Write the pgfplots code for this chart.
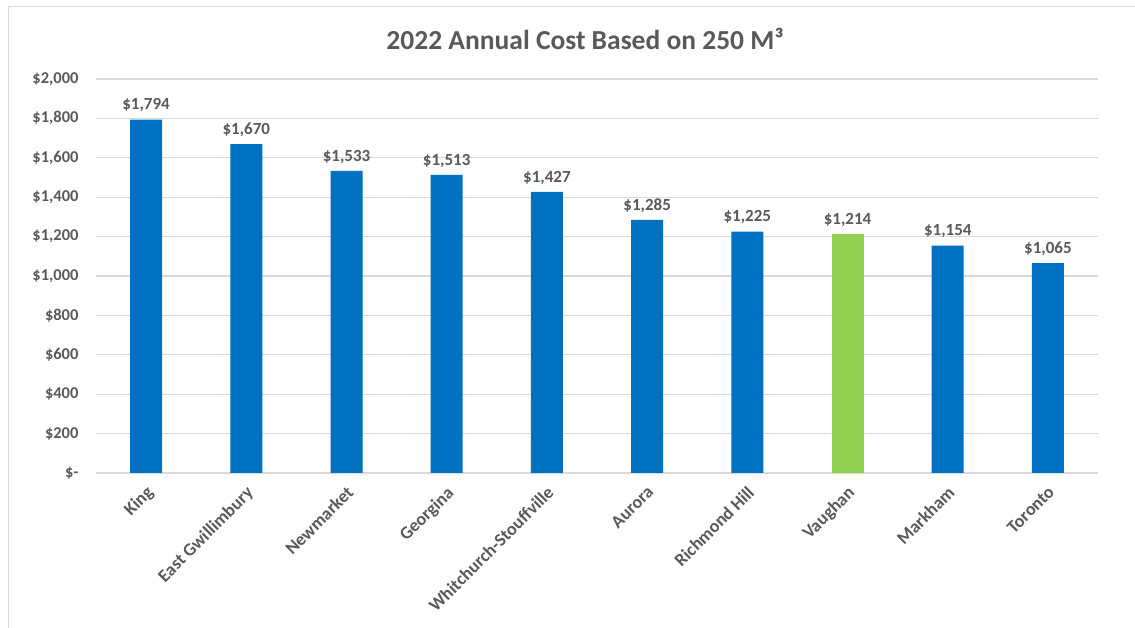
\documentclass[border=0pt]{standalone}
\usepackage{fontspec}
\setmainfont{Carlito}
\usepackage{pgfplots}
\pgfplotsset{compat=1.18}
\definecolor{barblue}{HTML}{0070C0}
\definecolor{bargreen}{HTML}{92D050}
\definecolor{txt}{HTML}{595959}
\definecolor{gridc}{HTML}{D9D9D9}
\begin{document}
\begin{tikzpicture}[x=1pt,y=1pt]
\path[use as bounding box] (0,0) rectangle (1135,628);
\draw[gridc, line width=1.5pt] (8.5,0) -- (8.5,621.5) -- (1135,621.5);
\node[txt, font=\bfseries\fontsize{27.5}{32}\selectfont] at (585,589.5) {2022 Annual Cost Based on 250 M³};
\begin{axis}[
  at={(96pt,155pt)}, anchor=south west, scale only axis,
  width=1002pt, height=394pt,
  xmin=-0.5, xmax=9.5, ymin=0, ymax=2000,
  axis lines*=left,
  x axis line style={gridc, line width=1.5pt, -},
  y axis line style={draw=none},
  ymajorgrids, grid style={gridc, line width=1.2pt},
  major tick length=0pt,
  xtick={0,...,9},
  xticklabels={King, East Gwillimbury, Newmarket, Georgina, Whitchurch-Stouffville, Aurora, Richmond Hill, Vaughan, Markham, Toronto},
  xticklabel style={xshift=-1pt, yshift=-7pt, rotate=45, anchor=north east, font=\bfseries\fontsize{18}{21}\selectfont, txt},
  ytick={0,200,...,2000},
  yticklabels={{\$-}, {\$200}, {\$400}, {\$600}, {\$800}, {\$1,000}, {\$1,200}, {\$1,400}, {\$1,600}, {\$1,800}, {\$2,000}},
  yticklabel style={font=\bfseries\fontsize{16.5}{19}\selectfont, txt, xshift=-14pt},
  ybar, bar width=32pt,
  nodes near coords={\$\pgfmathprintnumber[assume math mode=true, 1000 sep={,}]{\pgfplotspointmeta}},
  nodes near coords style={font=\bfseries\fontsize{17}{21}\selectfont, txt, anchor=south, yshift=4pt},
]
\addplot[fill=barblue, draw=none, bar shift=0pt] coordinates {
  (0,1794) (1,1670) (2,1533) (3,1513) (4,1427) (5,1285) (6,1225) (8,1154) (9,1065)};
\addplot[fill=bargreen, draw=none, bar shift=0pt] coordinates {(7,1214)};
\end{axis}
\end{tikzpicture}
\end{document}
